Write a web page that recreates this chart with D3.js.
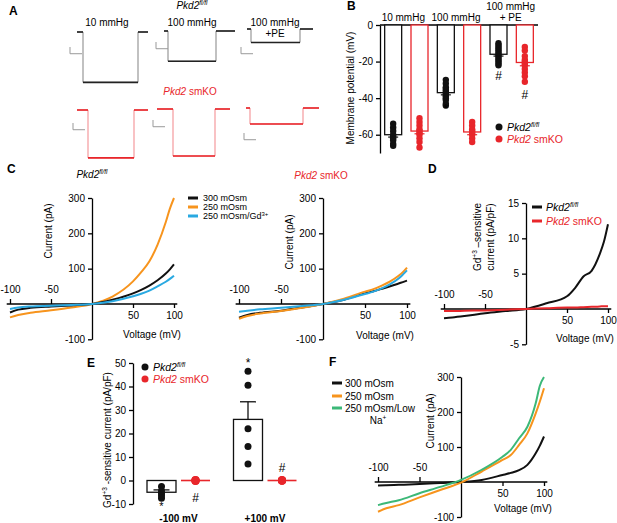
<!DOCTYPE html>
<html>
<head>
<meta charset="utf-8">
<script src="https://cdn.jsdelivr.net/npm/d3@7"></script>
<style>
body{margin:0;background:#fff}
svg text{font-family:"Liberation Sans",Arial,sans-serif;font-size:10px;fill:#000}
.ax path,.ax line{stroke:#000;stroke-width:1.3}
.lbl{font-weight:bold;font-size:12px !important}
.leg{font-size:9px !important}
</style>
</head>
<body>
<svg width="617" height="523"></svg>
<script>

// ---- data ----
// A: membrane potential steps (mV) and sweep timing (s)
var aLevelFl = [-60, -36, -16];
var aLevelKo = [-57, -56, -19];
var aTimeFl = [[0, 0.3, 3.05, 3.55], [0, 0.2, 2.6, 3.55], [0, 0.2, 2.65, 3.3]];
var aTimeKo = [[0, 0.55, 2.85, 3.55], [0, 0.8, 2.9, 3.65], [0, 0.2, 2.85, 3.65]];

// B: membrane potential (mV)
var bGroups = ["10 mmHg", "100 mmHg", "100 mmHg + PE"];
var bMeanFl = [-60, -37, -16];
var bMeanKo = [-58, -58.5, -20.5];
var bSemFl = [1.3, 1.2, 1.0];
var bSemKo = [1.5, 1.5, 1.8];
var bDotsFl = [[-54,-56,-58,-60,-61,-62,-63,-65,-66],
               [-30,-32,-34,-35,-36,-37,-38,-39,-40,-41,-43,-44],
               [-10,-11,-12,-13,-14,-15,-16,-17,-18,-19,-20,-21,-22]];
var bDotsKo = [[-51,-53,-55,-57,-58,-59,-60,-62,-64,-67],
               [-53,-55,-57,-58,-59,-60,-62,-64],
               [-12,-14,-17,-19,-20,-21,-22,-24,-26,-28,-31]];

// C, D, F: I-V curves sampled at these voltages (mV)
var vPts = [-100, -90, -75, -50, -25, 0, 25, 50, 60, 70, 80, 90, 95, 100];
var cFl300 = [-24, -16, -11, -7, -4, 0, 12, 30, 40, 52, 67, 86, 98, 112];
var cFl250 = [-38, -31, -25, -18, -10, 0, 21, 64, 90, 121, 168, 232, 270, 300];
var cFlGd  = [-14, -10, -7, -5, -3, 0, 8, 22, 29, 38, 50, 63, 71, 80];
var cKo300 = [-39, -31, -25, -19, -10, 0, 12, 30, 36, 43, 50, 58, 62, 66];
var cKo250 = [-42, -34, -27, -20, -11, 0, 15, 35, 42, 52, 64, 80, 90, 103];
var cKoGd  = [-22, -19, -15, -11, -6, 0, 12, 28, 35, 44, 56, 72, 83, 95];
var dFl = [-1.3, -1.2, -1.0, -0.6, -0.3, 0, 0.8, 1.8, 3.0, 4.6, 5.4, 7.8, 9.5, 12];
var dKo = [-0.3, -0.3, -0.25, -0.2, -0.1, 0, 0.1, 0.2, 0.2, 0.25, 0.3, 0.35, 0.4, 0.4];
var f300 = [-10, -9, -8, -6, -3, 0, 6, 20, 26, 34, 49, 82, 104, 130];
var f250 = [-85, -75, -66, -44, -23, -2, 30, 63, 77, 106, 139, 196, 230, 268];
var fLowNa = [-66, -60, -52, -32, -14, 6, 35, 72, 92, 125, 158, 225, 275, 300];

// E: Gd3+-sensitive current (pA/pF)
var eGroups = ["-100 mV", "+100 mV"];
var eMeanFl = [-5, 26];
var eSemFl = [1, 7.5];
var eMeanKo = [0, 0];
var eDotsFl = [[-2.5, -4.5, -5.5, -6.5, -7.5], [46.5, 40.5, 22, 14.5, 7]];
var eDotsKo = [[0.2, 0, 0, -0.2, 0], [0.2, 0, 0, -0.1, 0]];

var BLACK = "#111", RED = "#e8262b", ORANGE = "#f7941d", BLUE = "#29a9e1", GREEN = "#3cb878";
var plain = function(d) { return String(d); };

var svg = d3.select("svg");

function fl(t) {
  t.append("tspan").attr("font-style", "italic").text("Pkd2");
  t.append("tspan").attr("font-style", "italic").style("font-size", "6.5px").attr("dy", -4).text("fl/fl");
}
function ko(t) {
  t.style("fill", RED);
  t.append("tspan").attr("font-style", "italic").text("Pkd2");
  t.append("tspan").text(" smKO");
}
function txt(x, y, s, anchor) {
  return svg.append("text").attr("x", x).attr("y", y).attr("text-anchor", anchor || "middle").text(s);
}

// panel letters
[["A", 9, 15], ["B", 347, 10], ["C", 7, 173], ["D", 428, 173], ["E", 87, 367], ["F", 329, 366]]
  .forEach(function(d) { txt(d[1], d[2], d[0], "start").attr("class", "lbl"); });

// ---------- A ----------
(function() {
  txt(107, 26, "10 mmHg");
  txt(192, 26, "100 mmHg");
  txt(275, 26, "100 mmHg");
  txt(275, 37, "+PE");
  fl(svg.append("text").attr("x", 192).attr("y", 9).attr("text-anchor", "middle"));
  ko(svg.append("text").attr("x", 190).attr("y", 95).attr("text-anchor", "middle"));

  var orgFl = [[77, 32], [164, 31], [247, 29]];
  var orgKo = [[77, 110], [157, 109], [246, 108]];
  var barFl = [[70, 47], [156, 42], [241, 47]];
  var barKo = [[73, 123], [153, 120], [244, 133]];

  function sweep(times, level, org, bar, col) {
    var tx = d3.scaleLinear().domain([0, 1]).range([org[0], org[0] + 20]);
    var ty = d3.scaleLinear().domain([0, -10]).range([org[1], org[1] + 8.4]);
    var pts = [[times[0], 0], [times[1], 0], [times[1], level], [times[2], level], [times[2], 0], [times[3], 0]];
    var line = d3.line().x(function(d) { return tx(d[0]); }).y(function(d) { return ty(d[1]); });
    svg.append("path").attr("d", line(pts)).attr("fill", "none").attr("stroke", col).attr("stroke-width", 0.7).attr("opacity", 0.8);
    [[pts[0], pts[1]], [pts[2], pts[3]], [pts[4], pts[5]]].forEach(function(seg) {
      svg.append("path").attr("d", line(seg)).attr("stroke", col).attr("stroke-width", 1.6);
    });
    // scale bar
    var sx = d3.scaleLinear().domain([0, 1]).range([bar[0], bar[0] + 20]);
    var sy = d3.scaleLinear().domain([0, -10]).range([bar[1], bar[1] + 8.4]);
    svg.append("path").attr("d", d3.line()([[sx(0), sy(0)], [sx(0), sy(-8)], [sx(0.6), sy(-8)]]))
      .attr("fill", "none").attr("stroke", "#999").attr("stroke-width", 1);
  }
  for (var i = 0; i < 3; i++) {
    sweep(aTimeFl[i], aLevelFl[i], orgFl[i], barFl[i], "#222");
    sweep(aTimeKo[i], aLevelKo[i], orgKo[i], barKo[i], RED);
  }
})();

// ---------- B ----------
(function() {
  var x = d3.scalePoint().domain(d3.range(6)).range([380, 538]).padding(0.5);
  var y = d3.scaleLinear().domain([-70, 0]).range([153, 25]);
  var g = svg.append("g");
  g.append("g").attr("class", "ax").attr("transform", "translate(380,0)")
    .call(d3.axisLeft(y).tickValues([0, -20, -40, -60]).tickFormat(plain).tickSize(4).tickSizeOuter(0).tickPadding(3));
  g.append("line").attr("x1", 380).attr("x2", 538).attr("y1", y(0)).attr("y2", y(0)).attr("stroke", "#000").attr("stroke-width", 1.3);
  g.append("text").attr("transform", "translate(350,88) rotate(-90)").attr("text-anchor", "middle").attr("dy", "0.35em").text("Membrane potential (mV)");

  var bars = [];
  for (var i = 0; i < 3; i++) {
    bars.push({i: 2 * i, m: bMeanFl[i], s: bSemFl[i], dots: bDotsFl[i], c: BLACK});
    bars.push({i: 2 * i + 1, m: bMeanKo[i], s: bSemKo[i], dots: bDotsKo[i], c: RED});
  }
  bars.forEach(function(b) {
    var cx = x(b.i);
    g.append("rect").attr("x", cx - 8.5).attr("y", y(0)).attr("width", 17).attr("height", y(b.m) - y(0))
      .attr("fill", "#fff").attr("stroke", b.c).attr("stroke-width", 1.3);
    g.selectAll(null).data(b.dots).enter().append("circle")
      .attr("cx", cx).attr("cy", function(d) { return y(d); }).attr("r", 3.2).attr("fill", b.c);
    g.append("line").attr("x1", cx).attr("x2", cx).attr("y1", y(b.m)).attr("y2", y(b.m - b.s)).attr("stroke", b.c).attr("stroke-width", 1.2);
    g.append("line").attr("x1", cx - 5).attr("x2", cx + 5).attr("y1", y(b.m - b.s)).attr("y2", y(b.m - b.s)).attr("stroke", b.c).attr("stroke-width", 1.2);
  });
  [{i: 2, t: "*", d: bDotsFl[1], off: 8}, {i: 4, t: "#", d: bDotsFl[2], off: 15}, {i: 5, t: "#", d: bDotsKo[2], off: 17}]
    .forEach(function(m) {
      g.append("text").attr("x", x(m.i)).attr("y", y(d3.min(m.d)) + m.off).attr("text-anchor", "middle")
        .style("font-size", "12px").text(m.t);
    });
  txt((x(0) + x(1)) / 2 - 3, 21, bGroups[0]);
  txt((x(2) + x(3)) / 2 - 3, 21, bGroups[1]);
  txt((x(4) + x(5)) / 2 - 1, 10, "100 mmHg");
  txt((x(4) + x(5)) / 2 - 1, 21, "+ PE");
  // legend
  g.append("circle").attr("cx", 499).attr("cy", 127).attr("r", 3.5).attr("fill", BLACK);
  g.append("circle").attr("cx", 499).attr("cy", 139).attr("r", 3.5).attr("fill", RED);
  fl(g.append("text").attr("x", 507).attr("y", 131).style("font-size", "10.5px"));
  ko(g.append("text").attr("x", 507).attr("y", 143).style("font-size", "10.5px"));
})();

// ---------- I-V panels ----------
function ivPanel(o) {
  var x = d3.scaleLinear().domain([-100, 100]).range(o.xr);
  var y = d3.scaleLinear().domain(o.yd).range(o.yr);
  var g = svg.append("g");
  g.append("g").attr("class", "ax").attr("transform", "translate(" + x(0) + ",0)")
    .call(d3.axisLeft(y).tickValues(o.yt).tickFormat(plain).tickSize(4).tickSizeOuter(0).tickPadding(3));
  var xa = g.append("g").attr("transform", "translate(0," + y(0) + ")");
  xa.append("g").attr("class", "ax").call(d3.axisTop(x).tickValues([-100, -50]).tickFormat(plain).tickSize(5).tickPadding(6)).select(".domain").remove();
  xa.append("g").attr("class", "ax").call(d3.axisBottom(x).tickValues([50, 100]).tickFormat(plain).tickSize(4).tickPadding(4)).select(".domain").remove();
  xa.append("line").attr("x1", x(-104)).attr("x2", x(104)).attr("stroke", "#000").attr("stroke-width", 1.3);
  var line = d3.line().x(function(d, i) { return x(vPts[i]); }).y(function(d) { return y(d); }).curve(d3.curveMonotoneX);
  o.series.forEach(function(s) {
    g.append("path").attr("d", line(s.v)).attr("fill", "none").attr("stroke", s.c).attr("stroke-width", 2);
  });
  if (o.ylab) g.append("text").attr("transform", "translate(" + o.yl[0] + "," + o.yl[1] + ") rotate(-90)")
    .attr("text-anchor", "middle").attr("dy", "0.35em").text(o.ylab);
  g.append("text").attr("x", o.vl[0]).attr("y", o.vl[1]).attr("text-anchor", "middle").attr("dy", "0.35em").text("Voltage (mV)");
  return g;
}

function legendLines(x, ys, cols) {
  cols.forEach(function(c, i) {
    svg.append("line").attr("x1", x).attr("x2", x + 10).attr("y1", ys[i]).attr("y2", ys[i]).attr("stroke", c).attr("stroke-width", 3);
  });
}

// C left
ivPanel({xr: [10, 174], yd: [-100, 300], yr: [339.3, 198], yt: [-100, 100, 200, 300],
  series: [{v: cFl250, c: ORANGE}, {v: cFl300, c: BLACK}, {v: cFlGd, c: BLUE}],
  ylab: "Current (pA)", yl: [48, 231], vl: [152, 334]});
fl(svg.append("text").attr("x", 92).attr("y", 178).attr("text-anchor", "middle"));
legendLines(188, [198, 207, 216], [BLACK, ORANGE, BLUE]);
txt(203, 201, "300 mOsm", "start").attr("class", "leg");
txt(203, 210, "250 mOsm", "start").attr("class", "leg");
(function() {
  var t = txt(203, 219, "250 mOsm/Gd", "start").attr("class", "leg");
  t.append("tspan").style("font-size", "6px").attr("dy", -3.5).text("3+");
})();

// C right
ivPanel({xr: [239, 407], yd: [-100, 300], yr: [339.3, 198], yt: [-100, 100, 200, 300],
  series: [{v: cKo300, c: BLACK}, {v: cKo250, c: ORANGE}, {v: cKoGd, c: BLUE}],
  ylab: "Current (pA)", yl: [289, 242], vl: [385, 335]});
ko(svg.append("text").attr("x", 321).attr("y", 179).attr("text-anchor", "middle"));

// D
ivPanel({xr: [444, 608], yd: [-5, 15], yr: [344.3, 203], yt: [-5, 5, 10, 15],
  series: [{v: dFl, c: BLACK}, {v: dKo, c: RED}],
  ylab: null, vl: [585, 338]});
(function() {
  var t1 = svg.append("text").attr("transform", "translate(477,237) rotate(-90)").attr("text-anchor", "middle").attr("dy", "0.35em");
  t1.append("tspan").text("Gd");
  t1.append("tspan").style("font-size", "6.5px").attr("dy", -4).text("+3");
  t1.append("tspan").attr("dy", 4).text(" \u2013sensitive");
  svg.append("text").attr("transform", "translate(490,237) rotate(-90)").attr("text-anchor", "middle").attr("dy", "0.35em").text("current (pA/pF)");
})();
legendLines(532, [207, 221], [BLACK, RED]);
fl(svg.append("text").attr("x", 546).attr("y", 211).style("font-size", "10.5px"));
ko(svg.append("text").attr("x", 546).attr("y", 225).style("font-size", "10.5px"));

// F
ivPanel({xr: [378, 544], yd: [-100, 300], yr: [517, 377], yt: [-100, 100, 200, 300],
  series: [{v: f300, c: BLACK}, {v: f250, c: ORANGE}, {v: fLowNa, c: GREEN}],
  ylab: "Current (pA)", yl: [430, 421], vl: [523, 508]});
legendLines(332, [383, 396, 408], [BLACK, ORANGE, GREEN]);
txt(345, 386.5, "300 mOsm", "start");
txt(345, 399.5, "250 mOsm", "start");
txt(345, 411.5, "250 mOsm/Low", "start");
(function() {
  var t = txt(378, 423.5, "Na");
  t.append("tspan").style("font-size", "6.5px").attr("dy", -4).text("+");
})();

// ---------- E ----------
(function() {
  var y = d3.scaleLinear().domain([-10, 50]).range([504, 363]);
  var gx = d3.scalePoint().domain(eGroups).range([178.5, 265]);
  var sub = d3.scalePoint().domain(["fl", "ko"]).range([-17, 17]);
  var g = svg.append("g");
  g.append("g").attr("class", "ax").attr("transform", "translate(133,0)")
    .call(d3.axisLeft(y).tickValues(d3.range(-10, 51, 10)).tickFormat(plain).tickSize(4).tickSizeOuter(0).tickPadding(3));
  var t = g.append("text").attr("transform", "translate(107,440) rotate(-90)").attr("text-anchor", "middle").attr("dy", "0.35em");
  t.append("tspan").text("Gd");
  t.append("tspan").style("font-size", "6.5px").attr("dy", -4).text("+3");
  t.append("tspan").attr("dy", 4).text(" -sensitive current (pA/pF)");

  eGroups.forEach(function(grp, i) {
    var cx = gx(grp) + sub("fl"), m = eMeanFl[i];
    g.append("rect").attr("x", cx - 14.5).attr("y", y(Math.max(m, 0))).attr("width", 29)
      .attr("height", Math.abs(y(m) - y(0))).attr("fill", "#fff").attr("stroke", BLACK).attr("stroke-width", 1.3);
    var e = m + eSemFl[i];
    g.append("line").attr("x1", cx).attr("x2", cx).attr("y1", y(m)).attr("y2", y(e)).attr("stroke", BLACK).attr("stroke-width", 1.3);
    g.append("line").attr("x1", cx - 8).attr("x2", cx + 8).attr("y1", y(e)).attr("y2", y(e)).attr("stroke", BLACK).attr("stroke-width", 1.3);
    g.selectAll(null).data(eDotsFl[i]).enter().append("circle")
      .attr("cx", cx).attr("cy", function(d) { return y(d); }).attr("r", 3.5).attr("fill", BLACK);

    var kx = gx(grp) + sub("ko");
    g.append("line").attr("x1", kx - 14.5).attr("x2", kx + 14.5).attr("y1", y(eMeanKo[i])).attr("y2", y(eMeanKo[i]))
      .attr("stroke", RED).attr("stroke-width", 1.6);
    g.selectAll(null).data(eDotsKo[i]).enter().append("circle")
      .attr("cx", kx).attr("cy", function(d) { return y(d); }).attr("r", 4).attr("fill", RED);

    g.append("text").attr("x", gx(grp)).attr("y", 522).attr("text-anchor", "middle").style("font-weight", "bold").text(grp);
  });
  var c1 = gx(eGroups[0]), c2 = gx(eGroups[1]);
  g.append("text").attr("x", c1 + sub("fl")).attr("y", y(d3.min(eDotsFl[0])) + 12).attr("text-anchor", "middle").style("font-size", "11px").text("*");
  g.append("text").attr("x", c1 + sub("ko")).attr("y", y(0) + 21).attr("text-anchor", "middle").style("font-size", "12px").text("#");
  g.append("text").attr("x", c2 + sub("fl")).attr("y", y(d3.max(eDotsFl[1])) - 4).attr("text-anchor", "middle").style("font-size", "12px").text("*");
  g.append("text").attr("x", c2 + sub("ko")).attr("y", y(0) - 9).attr("text-anchor", "middle").style("font-size", "12px").text("#");
  // legend
  g.append("circle").attr("cx", 145).attr("cy", 367).attr("r", 3.5).attr("fill", BLACK);
  g.append("circle").attr("cx", 145).attr("cy", 379).attr("r", 3.5).attr("fill", RED);
  fl(g.append("text").attr("x", 153).attr("y", 371).style("font-size", "10.5px"));
  ko(g.append("text").attr("x", 153).attr("y", 383).style("font-size", "10.5px"));
})();

</script>
</body>
</html>
